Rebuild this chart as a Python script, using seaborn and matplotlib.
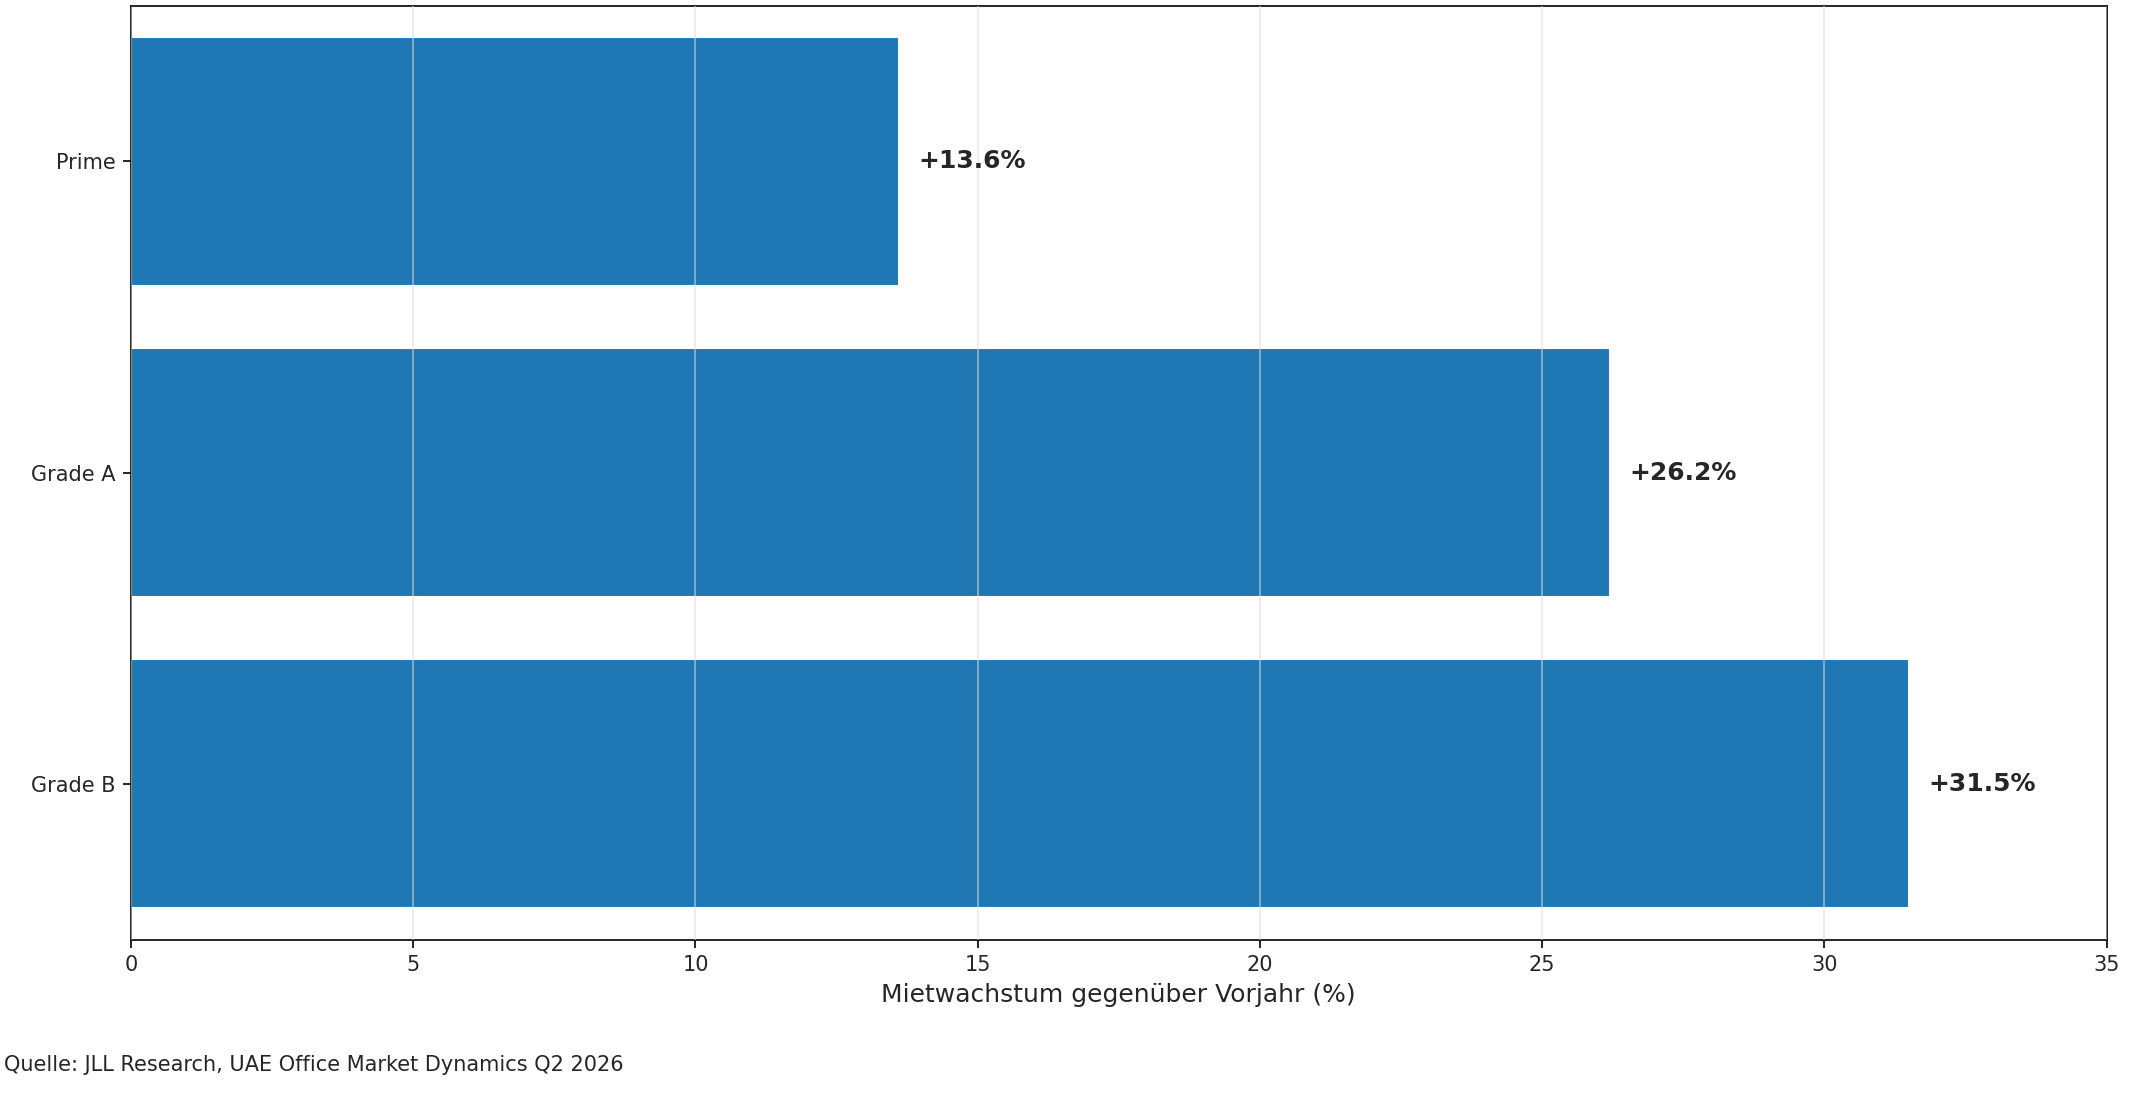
import pandas as pd
import seaborn as sns
import matplotlib.pyplot as plt

categories = ["Prime", "Grade A", "Grade B"]
growth = [13.6, 26.2, 31.5]
labels = ["+13.6%", "+26.2%", "+31.5%"]

df = pd.DataFrame({"Kategorie": categories, "Wachstum": growth})

sns.set_style("white")
plt.rcParams['font.family'] = ['DejaVu Sans']

fig = plt.figure(figsize=(14.2, 7.36), dpi=150)
ax = fig.add_axes([0.0615, 0.149, 0.9275, 0.846])

sns.barplot(data=df, x="Wachstum", y="Kategorie", color="#1f77b4",
            saturation=1, width=0.8, ax=ax)

ax.set_xlim(0, 35)
ax.grid(axis="x", color="#dddddd", alpha=0.6, linewidth=0.8)
ax.set_axisbelow(False)
for s in ax.spines.values():
    s.set_color("black")
    s.set_linewidth(0.8)
ax.tick_params(axis="both", length=4, color="black", labelsize=10, left=True, bottom=True)
ax.set_ylabel("")
ax.set_xlabel("Mietwachstum gegenüber Vorjahr (%)", fontsize=12)

for i, (v, t) in enumerate(zip(growth, labels)):
    ax.text(v + 0.35, i, t, va="center", ha="left", fontsize=12, fontweight="bold")

fig.text(0.002, 0.03, "Quelle: JLL Research, UAE Office Market Dynamics Q2 2026", fontsize=10)

fig.savefig("out.png", dpi=150)
